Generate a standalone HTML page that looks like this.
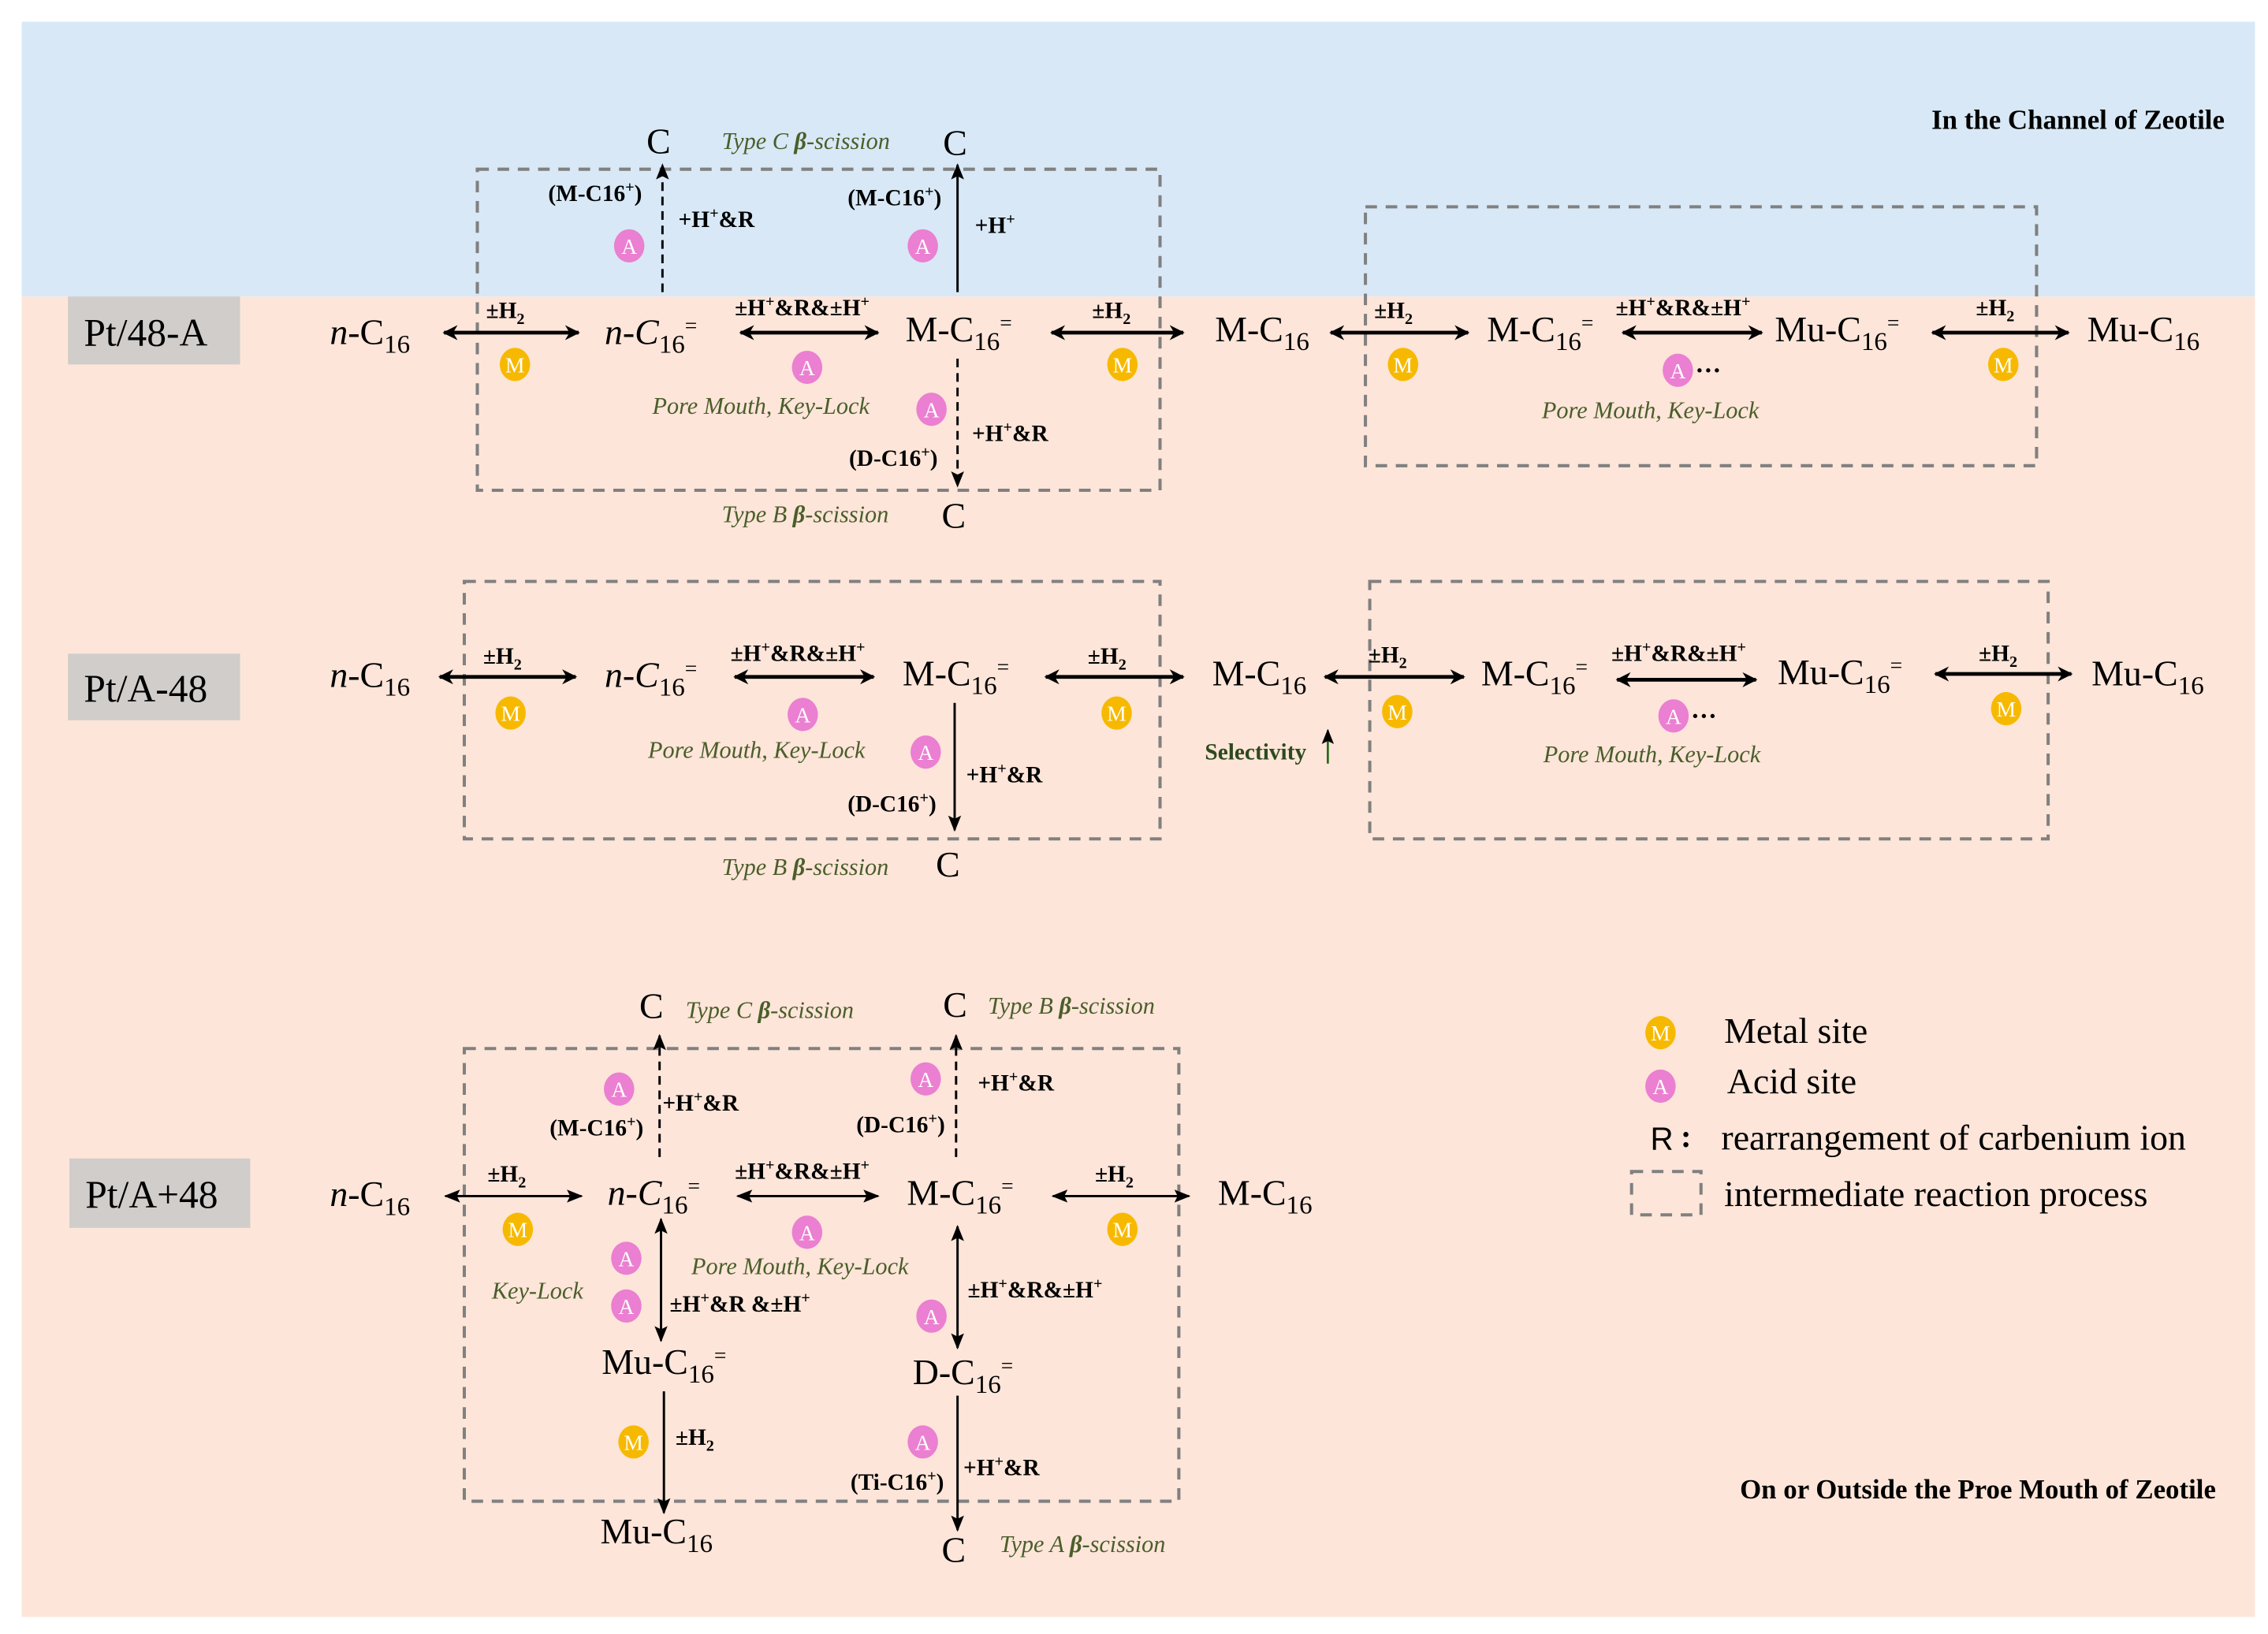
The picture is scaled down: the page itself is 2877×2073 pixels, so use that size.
<!DOCTYPE html>
<html><head><meta charset="utf-8"><style>html,body{margin:0;padding:0;background:#fff}svg{display:block}svg text{font-family:"Liberation Serif",serif}</style></head><body>
<svg width="2877" height="2073" viewBox="0 0 1568 1129.8" preserveAspectRatio="none" xmlns="http://www.w3.org/2000/svg" style="font-family:'Liberation Serif',serif">
<defs>
<marker id="ah" viewBox="0 0 10 10" refX="9" refY="5" markerWidth="4" markerHeight="4" orient="auto-start-reverse"><path d="M0,0 L10,5 L0,10 L3,5 z" fill="#000"/></marker>
<marker id="ah2" viewBox="0 0 10 10" refX="9" refY="5" markerWidth="7" markerHeight="7" orient="auto-start-reverse"><path d="M0,1 L10,5 L0,9 L2,5 z" fill="#000"/></marker>
<g id="M"><ellipse rx="10.5" ry="11.5" fill="#f7b900"/><text y="5.5" text-anchor="middle" font-size="15" fill="#fff">M</text></g>
<g id="A"><ellipse rx="10.5" ry="11.5" fill="#eb7fd1"/><text y="5.5" text-anchor="middle" font-size="15" fill="#fff">A</text></g>
</defs>
<rect x="15" y="15" width="1544" height="190" fill="#d8e8f6"/>
<rect x="15" y="205" width="1544" height="913" fill="#fde5d9"/>
<g fill="none" stroke="#808080" stroke-width="2.2" stroke-dasharray="8,6">
<rect x="330" y="117" width="472" height="222"/>
<rect x="944" y="143" width="464" height="179"/>
<rect x="321" y="402" width="481" height="178"/>
<rect x="947" y="402" width="469" height="178"/>
<rect x="321" y="725" width="494" height="313"/>
<rect x="1128" y="810" width="48" height="30"/>
</g>
<g fill="#d0cdcb"><rect x="47" y="205" width="119" height="47"/><rect x="47" y="452" width="119" height="46"/><rect x="48" y="801" width="125" height="48"/></g>
<g font-size="27" fill="#000"><text x="58" y="239">Pt/48-A</text><text x="58" y="485">Pt/A-48</text><text x="59" y="835">Pt/A+48</text></g>
<text x="1538" y="89" text-anchor="end" font-size="19" font-weight="bold">In the Channel of Zeotile</text>
<text x="1532" y="1036" text-anchor="end" font-size="19" font-weight="bold">On or Outside the Proe Mouth of Zeotile</text>
<g stroke="#000" stroke-width="2.6" marker-start="url(#ah)" marker-end="url(#ah)">
<line x1="307" y1="230" x2="400" y2="230"/><line x1="512" y1="230" x2="607" y2="230"/><line x1="727" y1="230" x2="818" y2="230"/><line x1="920" y1="230" x2="1015" y2="230"/><line x1="1122" y1="230" x2="1218" y2="230"/><line x1="1336" y1="230" x2="1430" y2="230"/>
<line x1="304" y1="468" x2="398" y2="468"/><line x1="508" y1="468" x2="604" y2="468"/><line x1="723" y1="468" x2="818" y2="468"/><line x1="916" y1="468" x2="1012" y2="468"/><line x1="1118" y1="470" x2="1214" y2="470"/><line x1="1338" y1="466" x2="1432" y2="466"/>
</g>
<g stroke="#000" stroke-width="1.6" marker-start="url(#ah2)" marker-end="url(#ah2)">
<line x1="308" y1="827" x2="402" y2="827"/><line x1="510" y1="827" x2="607" y2="827"/><line x1="728" y1="827" x2="822" y2="827"/>
<line x1="457" y1="843" x2="457" y2="927"/><line x1="662" y1="848" x2="662" y2="932"/>
</g>
<g stroke="#000" stroke-width="1.6" marker-end="url(#ah2)">
<line x1="458" y1="202" x2="458" y2="114" stroke-dasharray="6,4"/>
<line x1="662" y1="202" x2="662" y2="114"/>
<line x1="662" y1="248" x2="662" y2="336" stroke-dasharray="6,4"/>
<line x1="660" y1="486" x2="660" y2="574"/>
<line x1="456" y1="800" x2="456" y2="716" stroke-dasharray="6,4"/>
<line x1="661" y1="800" x2="661" y2="716" stroke-dasharray="6,4"/>
<line x1="459" y1="962" x2="459" y2="1046"/>
<line x1="662" y1="965" x2="662" y2="1058"/>
</g>
<g font-size="25" fill="#000">
<text x="228" y="238"><tspan font-style="italic">n</tspan>-C<tspan font-size="18" dy="6">16</tspan></text>
<text x="418" y="238"><tspan font-style="italic">n</tspan>-<tspan font-style="italic">C</tspan><tspan font-size="18" dy="6">16</tspan><tspan font-size="15" dy="-14">=</tspan></text>
<text x="626" y="236">M-C<tspan font-size="18" dy="6">16</tspan><tspan font-size="15" dy="-14">=</tspan></text>
<text x="840" y="236">M-C<tspan font-size="18" dy="6">16</tspan></text>
<text x="1028" y="236">M-C<tspan font-size="18" dy="6">16</tspan><tspan font-size="15" dy="-14">=</tspan></text>
<text x="1227" y="236">Mu-C<tspan font-size="18" dy="6">16</tspan><tspan font-size="15" dy="-14">=</tspan></text>
<text x="1443" y="236">Mu-C<tspan font-size="18" dy="6">16</tspan></text>
<text x="228" y="475"><tspan font-style="italic">n</tspan>-C<tspan font-size="18" dy="6">16</tspan></text>
<text x="418" y="475"><tspan font-style="italic">n</tspan>-<tspan font-style="italic">C</tspan><tspan font-size="18" dy="6">16</tspan><tspan font-size="15" dy="-14">=</tspan></text>
<text x="624" y="474">M-C<tspan font-size="18" dy="6">16</tspan><tspan font-size="15" dy="-14">=</tspan></text>
<text x="838" y="474">M-C<tspan font-size="18" dy="6">16</tspan></text>
<text x="1024" y="474">M-C<tspan font-size="18" dy="6">16</tspan><tspan font-size="15" dy="-14">=</tspan></text>
<text x="1229" y="473">Mu-C<tspan font-size="18" dy="6">16</tspan><tspan font-size="15" dy="-14">=</tspan></text>
<text x="1446" y="474">Mu-C<tspan font-size="18" dy="6">16</tspan></text>
<text x="228" y="834"><tspan font-style="italic">n</tspan>-C<tspan font-size="18" dy="6">16</tspan></text>
<text x="420" y="833"><tspan font-style="italic">n</tspan>-<tspan font-style="italic">C</tspan><tspan font-size="18" dy="6">16</tspan><tspan font-size="15" dy="-14">=</tspan></text>
<text x="627" y="833">M-C<tspan font-size="18" dy="6">16</tspan><tspan font-size="15" dy="-14">=</tspan></text>
<text x="842" y="833">M-C<tspan font-size="18" dy="6">16</tspan></text>
<text x="416" y="950">Mu-C<tspan font-size="18" dy="6">16</tspan><tspan font-size="15" dy="-14">=</tspan></text>
<text x="631" y="957">D-C<tspan font-size="18" dy="6">16</tspan><tspan font-size="15" dy="-14">=</tspan></text>
<text x="415" y="1067">Mu-C<tspan font-size="18" dy="6">16</tspan></text>
<text x="447" y="106">C</text><text x="652" y="107">C</text><text x="651" y="365">C</text>
<text x="647" y="606">C</text><text x="442" y="704">C</text><text x="652" y="703">C</text><text x="651" y="1080">C</text>
</g>
<g font-size="16" fill="#000" font-weight="bold">
<text x="336" y="220">±H<tspan font-size="11" dy="4">2</tspan></text>
<text x="508" y="218">±H<tspan font-size="11" dy="-6">+</tspan><tspan dy="6">&amp;R&amp;±H</tspan><tspan font-size="11" dy="-6">+</tspan></text>
<text x="755" y="220">±H<tspan font-size="11" dy="4">2</tspan></text>
<text x="950" y="220">±H<tspan font-size="11" dy="4">2</tspan></text>
<text x="1117" y="218">±H<tspan font-size="11" dy="-6">+</tspan><tspan dy="6">&amp;R&amp;±H</tspan><tspan font-size="11" dy="-6">+</tspan></text>
<text x="1366" y="218">±H<tspan font-size="11" dy="4">2</tspan></text>
<text x="379" y="139">(M-C16<tspan font-size="11" dy="-6">+</tspan><tspan dy="6">)</tspan></text>
<text x="469" y="157">+H<tspan font-size="11" dy="-6">+</tspan><tspan dy="6">&amp;R</tspan></text>
<text x="586" y="142">(M-C16<tspan font-size="11" dy="-6">+</tspan><tspan dy="6">)</tspan></text>
<text x="674" y="161">+H<tspan font-size="11" dy="-6">+</tspan></text>
<text x="672" y="305">+H<tspan font-size="11" dy="-6">+</tspan><tspan dy="6">&amp;R</tspan></text>
<text x="587" y="322">(D-C16<tspan font-size="11" dy="-6">+</tspan><tspan dy="6">)</tspan></text>
<text x="334" y="459">±H<tspan font-size="11" dy="4">2</tspan></text>
<text x="505" y="457">±H<tspan font-size="11" dy="-6">+</tspan><tspan dy="6">&amp;R&amp;±H</tspan><tspan font-size="11" dy="-6">+</tspan></text>
<text x="752" y="459">±H<tspan font-size="11" dy="4">2</tspan></text>
<text x="946" y="458">±H<tspan font-size="11" dy="4">2</tspan></text>
<text x="1114" y="457">±H<tspan font-size="11" dy="-6">+</tspan><tspan dy="6">&amp;R&amp;±H</tspan><tspan font-size="11" dy="-6">+</tspan></text>
<text x="1368" y="457">±H<tspan font-size="11" dy="4">2</tspan></text>
<text x="668" y="541">+H<tspan font-size="11" dy="-6">+</tspan><tspan dy="6">&amp;R</tspan></text>
<text x="586" y="561">(D-C16<tspan font-size="11" dy="-6">+</tspan><tspan dy="6">)</tspan></text>
<text x="337" y="817">±H<tspan font-size="11" dy="4">2</tspan></text>
<text x="508" y="815">±H<tspan font-size="11" dy="-6">+</tspan><tspan dy="6">&amp;R&amp;±H</tspan><tspan font-size="11" dy="-6">+</tspan></text>
<text x="757" y="817">±H<tspan font-size="11" dy="4">2</tspan></text>
<text x="458" y="768">+H<tspan font-size="11" dy="-6">+</tspan><tspan dy="6">&amp;R</tspan></text>
<text x="380" y="785">(M-C16<tspan font-size="11" dy="-6">+</tspan><tspan dy="6">)</tspan></text>
<text x="676" y="754">+H<tspan font-size="11" dy="-6">+</tspan><tspan dy="6">&amp;R</tspan></text>
<text x="592" y="783">(D-C16<tspan font-size="11" dy="-6">+</tspan><tspan dy="6">)</tspan></text>
<text x="463" y="907">±H<tspan font-size="11" dy="-6">+</tspan><tspan dy="6">&amp;R &amp;±H</tspan><tspan font-size="11" dy="-6">+</tspan></text>
<text x="669" y="897">±H<tspan font-size="11" dy="-6">+</tspan><tspan dy="6">&amp;R&amp;±H</tspan><tspan font-size="11" dy="-6">+</tspan></text>
<text x="467" y="999">±H<tspan font-size="11" dy="4">2</tspan></text>
<text x="666" y="1020">+H<tspan font-size="11" dy="-6">+</tspan><tspan dy="6">&amp;R</tspan></text>
<text x="588" y="1030">(Ti-C16<tspan font-size="11" dy="-6">+</tspan><tspan dy="6">)</tspan></text>
</g>
<g font-size="16.5" font-style="italic" fill="#4a5e2a">
<text x="499" y="103">Type C <tspan font-weight="bold">β</tspan>-scission</text>
<text x="499" y="361">Type B <tspan font-weight="bold">β</tspan>-scission</text>
<text x="451" y="286">Pore Mouth, Key-Lock</text>
<text x="1066" y="289">Pore Mouth, Key-Lock</text>
<text x="499" y="605">Type B <tspan font-weight="bold">β</tspan>-scission</text>
<text x="448" y="524">Pore Mouth, Key-Lock</text>
<text x="1067" y="527">Pore Mouth, Key-Lock</text>
<text x="474" y="704">Type C <tspan font-weight="bold">β</tspan>-scission</text>
<text x="683" y="701">Type B <tspan font-weight="bold">β</tspan>-scission</text>
<text x="478" y="881">Pore Mouth, Key-Lock</text>
<text x="340" y="898">Key-Lock</text>
<text x="691" y="1073">Type A <tspan font-weight="bold">β</tspan>-scission</text>
</g>
<text x="833" y="525" font-size="16" font-weight="bold" fill="#2d4a1e">Selectivity</text>
<line x1="918" y1="528" x2="918" y2="505" stroke="#2d6a1e" stroke-width="1.5" marker-end="url(#ah2)"/>
<use href="#M" x="356" y="252"/><use href="#A" x="558" y="254"/><use href="#M" x="776" y="252"/><use href="#M" x="970" y="252"/><use href="#A" x="1160" y="256"/><use href="#M" x="1385" y="252"/>
<use href="#A" x="435" y="170"/><use href="#A" x="638" y="170"/><use href="#A" x="644" y="283"/>
<use href="#M" x="353" y="493"/><use href="#A" x="555" y="494"/><use href="#M" x="772" y="493"/><use href="#A" x="640" y="520"/><use href="#M" x="966" y="492"/><use href="#A" x="1157" y="495"/><use href="#M" x="1387" y="490"/>
<use href="#M" x="358" y="850"/><use href="#A" x="558" y="852"/><use href="#M" x="776" y="850"/>
<use href="#A" x="428" y="753"/><use href="#A" x="640" y="746"/><use href="#A" x="433" y="870"/><use href="#A" x="433" y="903"/><use href="#A" x="644" y="910"/><use href="#M" x="438" y="997"/><use href="#A" x="638" y="997"/>
<text x="1172" y="262" font-size="18" font-weight="bold">···</text>
<text x="1169" y="501" font-size="18" font-weight="bold">···</text>
<use href="#M" x="1148" y="714"/><use href="#A" x="1148" y="751"/>
<g font-size="25" fill="#000">
<text x="1192" y="721">Metal site</text>
<text x="1194" y="756">Acid site</text>
<text x="1190" y="795">rearrangement of carbenium ion</text>
<text x="1192" y="834">intermediate reaction process</text>
</g>
<text x="1141" y="795" font-size="22" style="font-family:'Liberation Sans',sans-serif">R</text>
<text x="1162" y="793" font-size="22" font-weight="bold">:</text>
</svg>
</body></html>
